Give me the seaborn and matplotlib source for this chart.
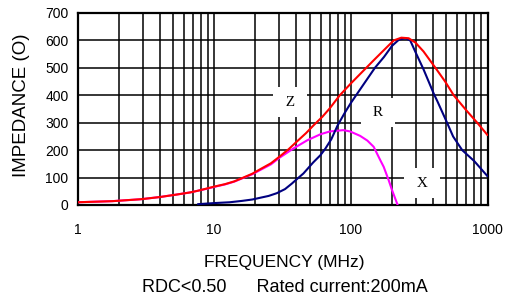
import numpy as np
import pandas as pd
import matplotlib
matplotlib.use("Agg")
import matplotlib.pyplot as plt
import seaborn as sns
from matplotlib.ticker import LogLocator, NullFormatter, FixedLocator, FixedFormatter

# ---- data ----
z_freq = [1, 1.8, 2.9, 4, 5.3, 6.7, 7.6, 8.8, 10, 12, 14, 16, 19, 22, 26, 30, 35, 40, 47, 53.5,
          62, 70, 83, 100, 121, 150, 184, 206, 234, 265, 297, 340, 416, 490, 566, 700, 841, 1000]
z_vals = [10, 14, 21, 29, 38, 46, 52, 60, 67, 76, 86, 98, 114, 132, 152, 176, 203, 230, 262, 291,
          322, 352, 400, 443, 485, 532, 576, 600, 610, 608, 592, 560, 500, 450, 400, 345, 300, 255]

r_freq = [7.6, 10, 13, 16, 19, 22, 25, 28.7, 33, 37, 40, 45, 53, 60, 65, 72, 80, 90, 100, 124,
          150, 175, 200, 225, 250, 272, 300, 340, 405, 430, 506, 560, 653, 800, 1000]
r_vals = [3, 7, 10, 15, 20, 27, 33, 43, 58, 78, 93, 115, 155, 182, 205, 240, 290, 335, 372, 440,
          500, 540, 580, 603, 608, 600, 553, 495, 405, 378, 300, 250, 200, 160, 105]

x_freq = [1, 1.8, 2.9, 4, 5.3, 6.7, 8.8, 10, 12, 14, 16, 19, 22, 26, 30, 38, 48, 60, 70, 88,
          99, 117, 132, 147, 164, 174, 189, 200, 220]
x_vals = [10, 14, 21, 29, 38, 46, 59, 66, 75, 85, 97, 112, 129, 148, 172, 206, 236, 258, 268, 273,
          268, 252, 235, 212, 164, 139, 91, 55, 0]

x_ticks = [1, 10, 100, 1000]
x_tick_labels = ["1", "10", "100", "1000"]
y_ticks = [0, 100, 200, 300, 400, 500, 600, 700]

curve_labels = ["Z", "R", "X"]
label_freq = [36, 158, 332]
label_vals = [375, 337, 79]

x_title = "FREQUENCY (MHz)"
y_title = "IMPEDANCE (O)"
subtitle = "RDC<0.50      Rated current:200mA"

# ---- figure ----
sns.set_theme(style="white")
plt.rcParams["font.family"] = ["Liberation Sans", "DejaVu Sans"]

fig = plt.figure(figsize=(5.08, 2.99), dpi=100)
ax = fig.add_axes([77.5 / 508, 1 - 205 / 299, 410 / 508, 192 / 299])

df_x = pd.DataFrame({"f": x_freq, "v": x_vals})
df_r = pd.DataFrame({"f": r_freq, "v": r_vals})
df_z = pd.DataFrame({"f": z_freq, "v": z_vals})

sns.lineplot(data=df_x, x="f", y="v", ax=ax, color="#ff00ff", lw=1.5, zorder=3, sort=False)
sns.lineplot(data=df_r, x="f", y="v", ax=ax, color="#000080", lw=1.5, zorder=4, sort=False)
sns.lineplot(data=df_z, x="f", y="v", ax=ax, color="#ff0000", lw=1.5, zorder=5, sort=False)

ax.set_xscale("log")
ax.set_xlim(1, 1000)
ax.set_ylim(0, 700)

ax.xaxis.set_major_locator(FixedLocator(x_ticks))
ax.xaxis.set_major_formatter(FixedFormatter(x_tick_labels))
ax.xaxis.set_minor_locator(LogLocator(base=10, subs=np.arange(2, 10)))
ax.xaxis.set_minor_formatter(NullFormatter())
ax.set_yticks(y_ticks)

ax.grid(True, which="both", axis="x", color="black", lw=1.1)
ax.grid(True, which="major", axis="y", color="black", lw=1.1)
ax.set_axisbelow(True)

for s in ax.spines.values():
    s.set_color("black")
    s.set_linewidth(1.6)

ax.tick_params(axis="x", which="both", length=0, pad=13, labelsize=10, colors="black")
ax.tick_params(axis="y", which="both", length=0, pad=6.5, labelsize=10, colors="black")

for lab, fx, vy in zip(curve_labels, label_freq, label_vals):
    ax.text(fx, vy, " " + lab + " ", ha="center", va="center", fontsize=11,
            family=["Liberation Serif", "DejaVu Serif"], color="black", zorder=2.5,
            bbox=dict(facecolor="white", edgecolor="none", boxstyle="square,pad=0.55"))

ax.set_xlabel(x_title, fontsize=12.5, color="black", va="center")
ax.xaxis.set_label_coords((284 - 77.5) / 410, (205 - 262) / 192)
ax.set_ylabel(y_title, fontsize=13.5, color="black", va="center")
ax.yaxis.set_label_coords((22 - 77.5) / 410, (205 - 105) / 192)

fig.text(285 / 508, 1 - 288 / 299, subtitle, ha="center", va="center", fontsize=13, color="black")

fig.savefig("out.png", dpi=100, facecolor="white")
